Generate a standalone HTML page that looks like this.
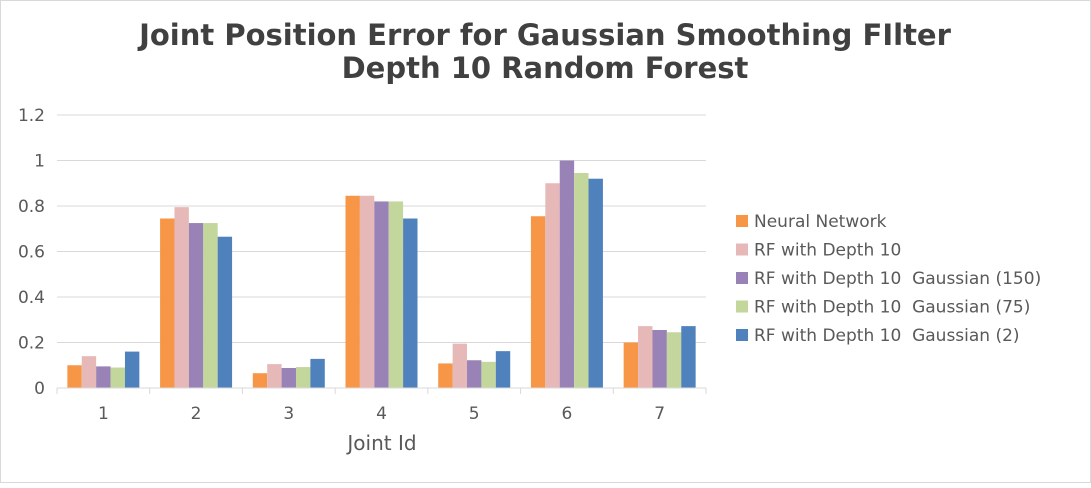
<!DOCTYPE html>
<html><head><meta charset="utf-8"><style>
body{margin:0;background:#fff;}
svg text{font-family:"DejaVu Sans","Liberation Sans",sans-serif;fill:#595959;}
#legend text{white-space:pre;}
</style></head><body>
<svg width="1091" height="483" xmlns="http://www.w3.org/2000/svg">
<rect x="0.5" y="0.5" width="1090" height="482" fill="#fff" stroke="#d9d9d9"/>
<text x="545" y="45" text-anchor="middle" font-size="29" font-weight="bold" style="fill:#404040">Joint Position Error for Gaussian Smoothing FIlter</text>
<text x="545" y="78" text-anchor="middle" font-size="29" font-weight="bold" style="fill:#404040">Depth 10 Random Forest</text>
<g id="grid"></g><g id="bars"></g><g id="axes"></g><g id="legend"></g>
<text x="382" y="450" text-anchor="middle" font-size="20">Joint Id</text>
</svg>
<script>
const categories=["1","2","3","4","5","6","7"];
const seriesNames=["Neural Network","RF with Depth 10","RF with Depth 10  Gaussian (150)","RF with Depth 10  Gaussian (75)","RF with Depth 10  Gaussian (2)"];
const colors=["#F79646","#E6B9B8","#9982B5","#C3D69B","#4F81BD"];
const s0=[0.10,0.745,0.065,0.845,0.108,0.755,0.20];
const s1=[0.14,0.795,0.105,0.845,0.195,0.90,0.272];
const s2=[0.095,0.725,0.088,0.82,0.122,1.0,0.255];
const s3=[0.09,0.725,0.092,0.82,0.115,0.945,0.245];
const s4=[0.16,0.665,0.128,0.745,0.162,0.92,0.272];
const series=[s0,s1,s2,s3,s4];
const yTicks=[0,0.2,0.4,0.6,0.8,1,1.2];
const NS="http://www.w3.org/2000/svg";
const x0=57,x1=706,y0=388,yTop=115,yMax=1.2;
const y=v=>y0-(v/yMax)*(y0-yTop);
const bw=(x1-x0)/categories.length;
const xc=i=>x0+bw*(i+0.5);
function mk(t,a,p){const e=document.createElementNS(NS,t);for(const k in a)e.setAttribute(k,a[k]);p.appendChild(e);return e;}
const grid=document.getElementById('grid'),bars=document.getElementById('bars'),axes=document.getElementById('axes'),leg=document.getElementById('legend');
yTicks.forEach(t=>{
 if(t>0){const l=mk('line',{x1:x0,x2:x1,y1:y(t),y2:y(t),stroke:'#d9d9d9'},grid);
 
 }
 const tx=mk('text',{x:45,y:y(t)+6,'text-anchor':'end','font-size':17},axes);tx.textContent=String(t);
 
 
});
const ax=mk('line',{x1:x0,x2:x1,y1:y0,y2:y0,stroke:'#d9d9d9'},axes);


for(let i=0;i<=categories.length;i++){const tk=mk('line',{x1:x0+bw*i,x2:x0+bw*i,y1:y0,y2:y0+6,stroke:'#d9d9d9'},axes);
 
 }
const barW=14.4;
categories.forEach((c,i)=>{
 const tx=mk('text',{x:xc(i),y:419,'text-anchor':'middle','font-size':17},axes);tx.textContent=c;
 
 
 series.forEach((s,j)=>{
  const bx=xc(i)-2.5*barW+j*barW;
  const r=mk('rect',{x:bx,y:y(s[i]),width:barW,height:y0-y(s[i]),fill:colors[j]},bars);
  
  
 });
});
seriesNames.forEach((n,j)=>{
 const yy=221+j*28.5;
 const r=mk('rect',{x:736,y:yy-6,width:12,height:12,fill:colors[j]},leg);
 
 
 const t=mk('text',{x:754,y:yy+6,'font-size':17},leg);t.textContent=n;
 
 
});
</script>
</body></html>
